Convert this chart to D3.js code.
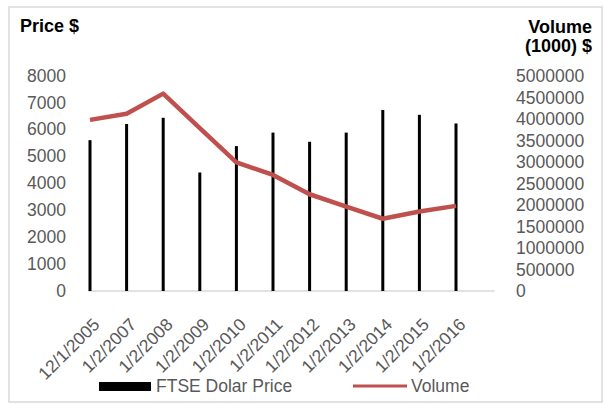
<!DOCTYPE html>
<html>
<head>
<meta charset="utf-8">
<script src="https://cdn.jsdelivr.net/npm/d3@7"></script>
<style>
  body { margin: 0; background: #fff; }
  svg text { font-family: "Liberation Sans", Arial, sans-serif; }
</style>
</head>
<body>
<div id="chart"></div>
<script>
const w = 604
const h = 405

// data
const dates = ['12/1/2005', '1/2/2007', '1/2/2008', '1/2/2009', '1/2/2010', '1/2/2011',
  '1/2/2012', '1/2/2013', '1/2/2014', '1/2/2015', '1/2/2016']
const price = [5600, 6200, 6430, 4400, 5380, 5880, 5540, 5880, 6720, 6540, 6220]
const volume = [3980000, 4120000, 4590000, 3790000, 2990000, 2700000,
  2250000, 1960000, 1680000, 1850000, 1980000]
const priceTicks = [0, 1000, 2000, 3000, 4000, 5000, 6000, 7000, 8000]
const volumeTicks = [0, 500000, 1000000, 1500000, 2000000, 2500000, 3000000,
  3500000, 4000000, 4500000, 5000000]

const grey = '#595959'
const red = '#C0504D'

const svg = d3.select('#chart')
  .append('svg')
  .attr('width', w)
  .attr('height', h)

// outer frame
svg.append('rect')
  .attr('x', 9).attr('y', 7)
  .attr('width', 593).attr('height', 395)
  .attr('fill', '#fff')
  .attr('stroke', '#d9d9d9')
  .attr('stroke-width', 1.5)

const x = d3.scalePoint().domain(dates).range([90, 456])
const yPrice = d3.scaleLinear().domain([0, 8000]).range([291, 75.5])
const yVol = d3.scaleLinear().domain([0, 5000000]).range([291, 76])

// left axis
const left = svg.append('g')
  .attr('transform', 'translate(66,0)')
  .call(d3.axisLeft(yPrice).tickValues(priceTicks).tickSize(0).tickPadding(0)
    .tickFormat(d3.format('d')))
left.select('.domain').remove()
left.selectAll('text')
  .attr('fill', grey)
  .style('font-size', '17.5px')

// right axis
const right = svg.append('g')
  .attr('transform', 'translate(516,0)')
  .call(d3.axisRight(yVol).tickValues(volumeTicks).tickSize(0).tickPadding(0)
    .tickFormat(d3.format('d')))
right.select('.domain').remove()
right.selectAll('text')
  .attr('fill', grey)
  .style('font-size', '17.5px')

// baseline
svg.append('line')
  .attr('x1', x(dates[0]) - 2)
  .attr('x2', x(dates[dates.length - 1]) + x.step() + 2)
  .attr('y1', yPrice(0)).attr('y2', yPrice(0))
  .attr('stroke', '#d9d9d9')
  .attr('stroke-width', 1.5)

// price bars
svg.append('g')
  .selectAll('rect')
  .data(price)
  .enter()
  .append('rect')
  .attr('x', (d, i) => x(dates[i]) - 1.5)
  .attr('width', 3)
  .attr('y', d => yPrice(d))
  .attr('height', d => yPrice(0) - yPrice(d))
  .attr('fill', '#000')

// volume line
const line = d3.line()
  .x((d, i) => x(dates[i]))
  .y(d => yVol(d))

svg.append('path')
  .datum(volume)
  .attr('d', line)
  .attr('fill', 'none')
  .attr('stroke', red)
  .attr('stroke-width', 4.5)
  .attr('stroke-linejoin', 'round')

// x labels
svg.append('g')
  .selectAll('text')
  .data(dates)
  .enter()
  .append('text')
  .attr('transform', d => `translate(${x(d) + 2},${yPrice(0) + 26}) rotate(-45)`)
  .attr('text-anchor', 'end')
  .attr('dy', '0.7em')
  .attr('fill', grey)
  .style('font-size', '17.5px')
  .text(d => d)

// axis titles
svg.append('text')
  .attr('x', 20).attr('y', 32)
  .style('font-size', '18px')
  .style('font-weight', 'bold')
  .text('Price $')

svg.append('text')
  .attr('x', 592).attr('y', 33)
  .attr('text-anchor', 'end')
  .style('font-size', '18px')
  .style('font-weight', 'bold')
  .text('Volume')

svg.append('text')
  .attr('x', 592).attr('y', 52)
  .attr('text-anchor', 'end')
  .style('font-size', '18px')
  .style('font-weight', 'bold')
  .text('(1000) $')

// legend
svg.append('rect')
  .attr('x', 99).attr('y', 382)
  .attr('width', 52).attr('height', 9)
  .attr('fill', '#000')
svg.append('text')
  .attr('x', 156).attr('y', 392)
  .attr('fill', grey)
  .style('font-size', '17.5px')
  .text('FTSE Dolar Price')

svg.append('line')
  .attr('x1', 353).attr('x2', 407)
  .attr('y1', 386).attr('y2', 386)
  .attr('stroke', red)
  .attr('stroke-width', 3)
svg.append('text')
  .attr('x', 411).attr('y', 392)
  .attr('fill', grey)
  .style('font-size', '17.5px')
  .text('Volume')
</script>
</body>
</html>
